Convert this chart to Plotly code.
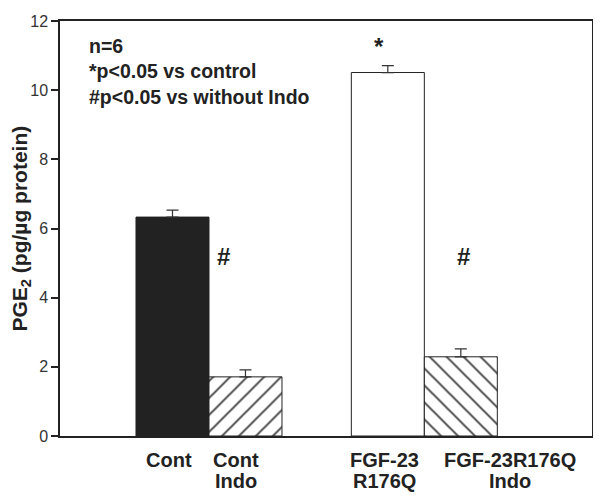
import plotly.graph_objects as go

categories = ["Cont", "Cont<br>Indo", "FGF-23<br>R176Q", "FGF-23R176Q<br>Indo"]
values = [6.33, 1.71, 10.51, 2.29]
errors = [0.20, 0.20, 0.20, 0.23]
sig_marks = ["", "#", "*", "#"]
y_ticks = [0, 2, 4, 6, 8, 10, 12]
notes = ["n=6", "*p<0.05 vs control", "#p<0.05 vs without Indo"]

# layout positions (x in bar-width units)
xpos = [1.5, 2.5, 4.45, 5.45]
fills = ["#222222", "white", "white", "white"]
shapes = ["", "/", "", "\\"]

FONT = "Liberation Sans, Arial, Helvetica, sans-serif"
TXT = "#222222"

fig = go.Figure()
fig.add_trace(go.Bar(
    x=xpos, y=values, width=1.0,
    marker=dict(
        color=fills,
        line=dict(color="#222222", width=1),
        pattern=dict(shape=shapes, size=12, solidity=0.16,
                     fgcolor="#111111", bgcolor="white", fillmode="overlay", fgopacity=1),
    ),
    error_y=dict(type="data", symmetric=False, array=errors,
                 arrayminus=[0, 0, 0, 0], color="#333333", thickness=1.2, width=6),
    showlegend=False, hoverinfo="skip",
))

ann = []
# significance marks
mark_pos = {1: (2.205, 5.19), 2: (4.33, 11.26), 3: (5.493, 5.19)}
for i, m in enumerate(sig_marks):
    if m:
        mx, my = mark_pos[i]
        ann.append(dict(x=mx, y=my, xref="x", yref="y", text="<b>%s</b>" % m,
                        showarrow=False, font=dict(family=FONT, size=24, color=TXT),
                        xanchor="center", yanchor="middle"))

# x category labels
label_x = [1.45, 2.37, 4.41, 6.12]
for lx, cat in zip(label_x, categories):
    lines = cat.split("<br>")
    for j, line in enumerate(lines):
        ann.append(dict(x=lx, y=(436 - (460 + 22 * j)) / 423, xref="x", yref="paper",
                        text="<b>%s</b>" % line, showarrow=False,
                        font=dict(family=FONT, size=20, color=TXT),
                        xanchor="center", yanchor="middle"))

# notes
for j, t in enumerate(notes):
    ann.append(dict(x=(87 - 60) / 532, y=(436 - (38 + 26 * j)) / 423, xref="paper", yref="paper",
                    text="<b>%s</b>" % t, showarrow=False,
                    font=dict(family=FONT, size=19.5, color=TXT),
                    xanchor="left", yanchor="middle"))

# y-axis title
ann.append(dict(x=(20 - 60) / 532, y=0.5, xref="paper", yref="paper",
                text="<b>PGE<sub>2</sub> (pg/µg protein)</b>",
                showarrow=False, textangle=-90, font=dict(family=FONT, size=21, color=TXT),
                xanchor="center", yanchor="middle"))

# figure is 8px smaller than the window because of the page's default body margin
fig.update_layout(
    width=593, height=488,
    margin=dict(l=52, r=9, t=5, b=60),
    paper_bgcolor="white", plot_bgcolor="white",
    annotations=ann,
    xaxis=dict(range=[-0.041, 7.247], showticklabels=False, ticks="", showgrid=False,
               zeroline=False, showline=True, linecolor="#222222", linewidth=1.5, mirror=True),
    yaxis=dict(range=[0, 12], tickvals=y_ticks, ticks="outside", ticklen=7, tickwidth=1.5,
               tickcolor="#222222", showgrid=False, zeroline=False, showline=True,
               linecolor="#222222", linewidth=1.5, mirror=True, ticklabeloverflow="allow",
               tickfont=dict(family=FONT, size=16, color="#333333")),
)

fig.write_html("out.html")
